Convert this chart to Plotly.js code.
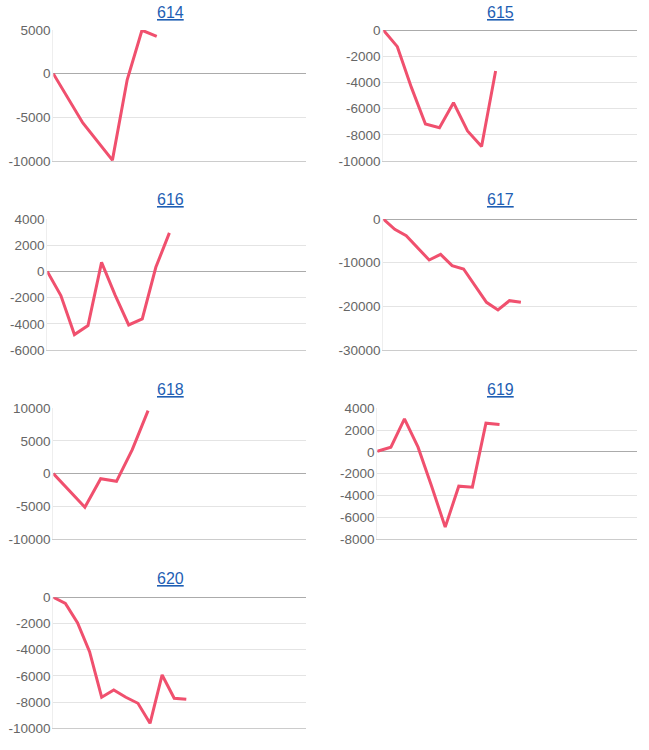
<!DOCTYPE html>
<html>
<head>
<meta charset="utf-8">
<script src="https://cdn.plot.ly/plotly-3.0.1.min.js"></script>
<style>html,body{margin:0;padding:0;background:#fff;}#chart{width:649px;height:750px;}</style>
</head>
<body>
<div id="chart"></div>
<script>
// ---- data ----
const titles = ['614', '615', '616', '617', '618', '619', '620'];

const x614 = [0, 2, 4, 5, 6, 7];
const y614 = [0, -5650, -9900, -700, 4970, 4280];

const x615 = [0, 1, 2, 3, 4, 5, 6, 7, 8];
const y615 = [0, -1270, -4380, -7180, -7460, -5550, -7710, -8900, -3130];

const x616 = [0, 1, 2, 3, 4, 5, 6, 7, 8, 9];
const y616 = [0, -1840, -4820, -4130, 700, -1800, -4080, -3620, 330, 2960];

const x617 = [0, 1, 2, 3, 4, 5, 6, 7, 8, 9, 10, 11, 12];
const y617 = [0, -2370, -3820, -6490, -9390, -8090, -10690, -11450, -15340, -19080, -20840, -18700, -19080];

const x618 = [0, 2, 3, 4, 5, 6];
const y618 = [0, -5150, -770, -1170, 3670, 9640];

const x619 = [0, 1, 2, 3, 4, 5, 6, 7, 8, 9];
const y619 = [50, 430, 3030, 430, -3150, -6910, -3150, -3240, 2630, 2510];

const x620 = [0, 1, 2, 3, 4, 5, 6, 7, 8, 9, 10, 11];
const y620 = [0, -460, -1930, -4150, -7630, -7070, -7630, -8090, -9620, -5930, -7710, -7790];

const ticks614 = [-10000, -5000, 0, 5000];
const ticks615 = [-10000, -8000, -6000, -4000, -2000, 0];
const ticks616 = [-6000, -4000, -2000, 0, 2000, 4000];
const ticks617 = [-30000, -20000, -10000, 0];
const ticks618 = [-10000, -5000, 0, 5000, 10000];
const ticks619 = [-8000, -6000, -4000, -2000, 0, 2000, 4000];
const ticks620 = [-10000, -8000, -6000, -4000, -2000, 0];

// ---- layout / styling ----
const series = [
  {x: x614, y: y614, ticks: ticks614},
  {x: x615, y: y615, ticks: ticks615},
  {x: x616, y: y616, ticks: ticks616},
  {x: x617, y: y617, ticks: ticks617},
  {x: x618, y: y618, ticks: ticks618},
  {x: x619, y: y619, ticks: ticks619},
  {x: x620, y: y620, ticks: ticks620}
];
// pixel boxes [left, right, top, bottom], x-range max, title position
const boxes = [
  {l: 53.3, r: 306, t: 30, b: 161, xmax: 17.1, tx: 170, ty: 12},
  {l: 383.3, r: 636.7, t: 30, b: 161, xmax: 18.05, tx: 500, ty: 12},
  {l: 47.3, r: 306, t: 219.3, b: 350, xmax: 19.07, tx: 170, ty: 200},
  {l: 383.3, r: 636.7, t: 219, b: 350, xmax: 22.1, tx: 500, ty: 200},
  {l: 53.3, r: 306, t: 408.3, b: 539, xmax: 16, tx: 170, ty: 389},
  {l: 377.3, r: 636.7, t: 408.3, b: 539, xmax: 19.1, tx: 500, ty: 389},
  {l: 53.3, r: 306, t: 597.3, b: 728.3, xmax: 20.9, tx: 170, ty: 578}
];
const W = 649, H = 750;
const font = "Arial, 'Liberation Sans', sans-serif";
const traces = [];
const layout = {
  width: W, height: H,
  margin: {l: 0, r: 0, t: 0, b: 0},
  paper_bgcolor: '#fff', plot_bgcolor: '#fff',
  showlegend: false,
  font: {family: font},
  annotations: []
};
series.forEach((s, i) => {
  const n = i + 1;
  const bx = boxes[i];
  const xa = 'x' + (n === 1 ? '' : n), ya = 'y' + (n === 1 ? '' : n);
  traces.push({
    type: 'scatter', mode: 'lines', x: s.x, y: s.y,
    xaxis: xa, yaxis: ya,
    line: {color: '#f0506e', width: 3},
    hoverinfo: 'skip'
  });
  const xk = 'xaxis' + (n === 1 ? '' : n), yk = 'yaxis' + (n === 1 ? '' : n);
  layout[xk] = {
    domain: [bx.l / W, bx.r / W],
    anchor: ya,
    range: [0, bx.xmax],
    showgrid: false, zeroline: false, showticklabels: false, ticks: '',
    showline: true, linecolor: '#cccccc', linewidth: 1,
    fixedrange: true
  };
  layout[yk] = {
    domain: [1 - bx.b / H, 1 - bx.t / H],
    anchor: xa,
    range: [s.ticks[0], s.ticks[s.ticks.length - 1]],
    tickmode: 'array',
    tickvals: s.ticks,
    ticktext: s.ticks.map(v => String(v)),
    ticks: '',
    ticklabelstandoff: -1,
    showgrid: true, gridcolor: '#e4e4e4', gridwidth: 1,
    zeroline: true, zerolinecolor: '#ababab', zerolinewidth: 1,
    showline: true, linecolor: '#eeeeee', linewidth: 1,
    tickfont: {family: font, size: 13.5, color: '#666666'},
    automargin: false,
    fixedrange: true
  };
  layout.annotations.push({
    xref: 'paper', yref: 'paper',
    x: bx.tx / W, y: 1 - bx.ty / H,
    xanchor: 'center', yanchor: 'middle',
    text: '<u>' + titles[i] + '</u>',
    showarrow: false,
    font: {family: font, size: 16, color: '#1f5fb4'}
  });
});
Plotly.newPlot('chart', traces, layout, {displayModeBar: false, staticPlot: true});
</script>
</body>
</html>
